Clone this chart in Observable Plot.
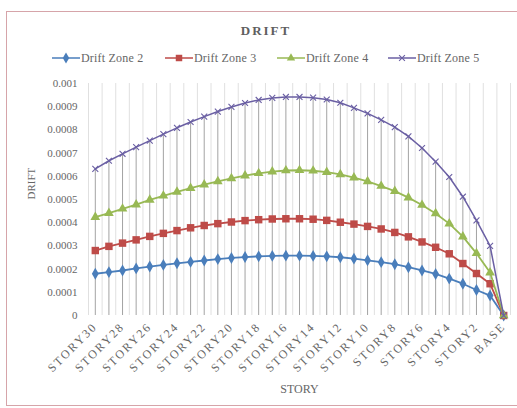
<!DOCTYPE html>
<html>
<head>
<meta charset="utf-8">
<script src="https://cdn.jsdelivr.net/npm/d3@7"></script>
<script src="https://cdn.jsdelivr.net/npm/@observablehq/plot@0.6"></script>
<style>
  body { margin: 0; background: #fff; }
  #chart { position: relative; width: 517px; height: 408px; overflow: hidden;
    font-family: "Liberation Serif", "DejaVu Serif", serif; color: #666; }
  #frame { position: absolute; left: 6px; top: 11px; width: 540px; height: 395px;
    border: 1px solid #d6a4a9; box-sizing: border-box; }
  #title { position: absolute; left: 6px; width: 520px; top: 23px; text-align: center;
    font-family: "Liberation Serif", serif; font-weight: bold; font-size: 13px; letter-spacing: 2px; line-height: 16px; color: #5f5f5f; }
  #legend { position: absolute; left: 0; top: 50px; width: 517px; height: 16px; }
  .item { position: absolute; top: 0; height: 16px; display: flex; align-items: center;
    font-family: "Liberation Serif", serif; font-size: 12px; letter-spacing: 0.2px; white-space: nowrap; color: #666; }
  .item svg { margin-right: 1px; }
  #plot { position: absolute; left: 0; top: 65px; }
</style>
</head>
<body>
<div id="chart">
  <div id="frame"></div>
  <div id="title">DRIFT</div>
  <div id="legend"></div>
  <div id="plot"></div>
</div>
<script>
// ---------- data ----------
const categories = ["STORY30","STORY29","STORY28","STORY27","STORY26","STORY25","STORY24","STORY23",
  "STORY22","STORY21","STORY20","STORY19","STORY18","STORY17","STORY16","STORY15","STORY14","STORY13",
  "STORY12","STORY11","STORY10","STORY9","STORY8","STORY7","STORY6","STORY5","STORY4","STORY3",
  "STORY2","STORY1","BASE"];

const zone2 = [0.000180,0.000187,0.000194,0.000203,0.000211,0.000218,0.000225,0.000231,0.000237,0.000243,
  0.000248,0.000252,0.000255,0.000257,0.000258,0.000258,0.000257,0.000255,
  0.000251,0.000245,0.000238,0.000230,0.000221,0.000208,0.000194,0.000179,0.000159,0.000137,0.000110,0.000086,0];
const zone3 = [0.000280,0.000298,0.000312,0.000326,0.000341,0.000354,0.000366,0.000378,0.000388,0.000396,
  0.000403,0.000409,0.000413,0.000416,0.000417,0.000417,0.000415,0.000410,
  0.000402,0.000394,0.000384,0.000373,0.000358,0.000339,0.000317,0.000294,0.000266,0.000224,0.000181,0.000137,0];
const zone4 = [0.000424,0.000441,0.000460,0.000478,0.000498,0.000516,0.000533,0.000549,0.000564,0.000578,
  0.000591,0.000603,0.000613,0.000620,0.000625,0.000626,0.000624,0.000618,
  0.000608,0.000594,0.000578,0.000558,0.000536,0.000508,0.000476,0.000440,0.000396,0.000340,0.000268,0.000185,0];
const zone5 = [0.000632,0.000667,0.000697,0.000726,0.000754,0.000782,0.000809,0.000834,0.000857,0.000879,
  0.000899,0.000916,0.000929,0.000938,0.000942,0.000942,0.000939,0.000931,
  0.000917,0.000895,0.000871,0.000843,0.000812,0.000772,0.000722,0.000663,0.000597,0.000512,0.000410,0.000300,0];

const seriesNames = ["Drift Zone 2","Drift Zone 3","Drift Zone 4","Drift Zone 5"];
const seriesValues = [zone2, zone3, zone4, zone5];

const yTicks = [0, 0.0001, 0.0002, 0.0003, 0.0004, 0.0005, 0.0006, 0.0007, 0.0008, 0.0009, 0.001];
const yTickLabels = ["0","0.0001","0.0002","0.0003","0.0004","0.0005","0.0006","0.0007","0.0008","0.0009","0.001"];
const xTickLabels = ["STORY30","STORY28","STORY26","STORY24","STORY22","STORY20","STORY18","STORY16",
  "STORY14","STORY12","STORY10","STORY8","STORY6","STORY4","STORY2","BASE"];

const xTitle = "STORY";
const yTitle = "DRIFT";

// ---------- styles ----------
const styles = [
  {color: "#4a7ebb", symbol: "diamond", r: 3.6, fill: true, width: 1.8, d3sym: d3.symbolDiamond, size: 36},
  {color: "#be4b48", symbol: "square", r: 4.2, fill: true, width: 1.8, d3sym: d3.symbolSquare, size: 42},
  {color: "#98b954", symbol: "triangle", r: 3.6, fill: true, width: 1.8, d3sym: d3.symbolTriangle, size: 30},
  {color: "#6a5fa3", symbol: "times", r: 2.8, fill: false, width: 1.5, d3sym: d3.symbolTimes || d3.symbolCross, size: 24}
];

// ---------- table ----------
const rows = [];
seriesValues.forEach((vals, s) => vals.forEach((v, i) => rows.push({s, name: seriesNames[s], i, v})));
const idx = categories.map((c, i) => i);
const gridPos = categories.concat([""]).map((c, i) => i - 0.5);
const xTickIdx = xTickLabels.map(l => categories.indexOf(l));

// ---------- legend ----------
const legendX = [52, 165, 277, 388];
const legend = d3.select("#legend");
seriesNames.forEach((name, s) => {
  const st = styles[s];
  const item = legend.append("div").attr("class", "item").style("left", legendX[s] + "px");
  const svg = item.append("svg").attr("width", 28).attr("height", 16);
  svg.append("line").attr("x1", 0).attr("x2", 28).attr("y1", 8).attr("y2", 8)
    .attr("stroke", st.color).attr("stroke-width", 1.5);
  const p = svg.append("path").attr("transform", "translate(14,8)")
    .attr("d", d3.symbol(st.d3sym, st.size)());
  if (st.fill) p.attr("fill", st.color); else p.attr("fill", "none").attr("stroke", st.color).attr("stroke-width", 1.1);
  item.append("span").text(name);
});

// ---------- plot ----------
const marks = [
  Plot.ruleX(gridPos, {x: d => d, y1: 0, y2: 0.001, stroke: "#e0e0e0", strokeWidth: 1}),
  Plot.ruleX(idx, {x: d => d, y1: 0, y2: d => zone5[d], stroke: "#a3a3a3", strokeWidth: 1})
];
seriesNames.forEach((name, s) => {
  const st = styles[s];
  const data = rows.filter(r => r.s === s);
  marks.push(Plot.line(data, {x: "i", y: "v", stroke: st.color, strokeWidth: st.width}));
  marks.push(Plot.dot(data, st.fill
    ? {x: "i", y: "v", symbol: () => st.symbol, r: st.r, fill: st.color, stroke: "none"}
    : {x: "i", y: "v", symbol: () => st.symbol, r: st.r, stroke: st.color, fill: "none", strokeWidth: 1.1}));
});
marks.push(Plot.text([xTitle], {frameAnchor: "bottom", dy: 77, fontSize: 12, fill: "#666",
  text: d => d, style: "letter-spacing:1.5px"}));
marks.push(Plot.text([yTitle], {frameAnchor: "left", dx: -57, rotate: -90, fontSize: 11, fill: "#666",
  text: d => d}));

const chart = Plot.plot({
  width: 517,
  height: 341,
  marginLeft: 88,
  marginRight: 7,
  marginTop: 18,
  marginBottom: 91,
  style: {fontFamily: "Liberation Serif, DejaVu Serif, serif", fontSize: "11px", color: "#666",
    background: "transparent", overflow: "visible"},
  symbol: {type: "identity"},
  x: {type: "linear", domain: [-0.5, categories.length - 0.5], ticks: xTickIdx,
      tickFormat: d => categories[d], tickRotate: -45, tickSize: 0, tickPadding: 9, label: null, line: false},
  y: {domain: [0, 0.001], ticks: yTicks, tickFormat: d => yTickLabels[yTicks.indexOf(d)],
      tickSize: 0, tickPadding: 11, label: null},
  marks
});
document.getElementById("plot").appendChild(chart);
d3.select(chart).selectAll("g[aria-label='x-axis tick label'] text, g[aria-label='x-axis'] text")
  .style("font-size", "12px").style("letter-spacing", "2px");
</script>
</body>
</html>
